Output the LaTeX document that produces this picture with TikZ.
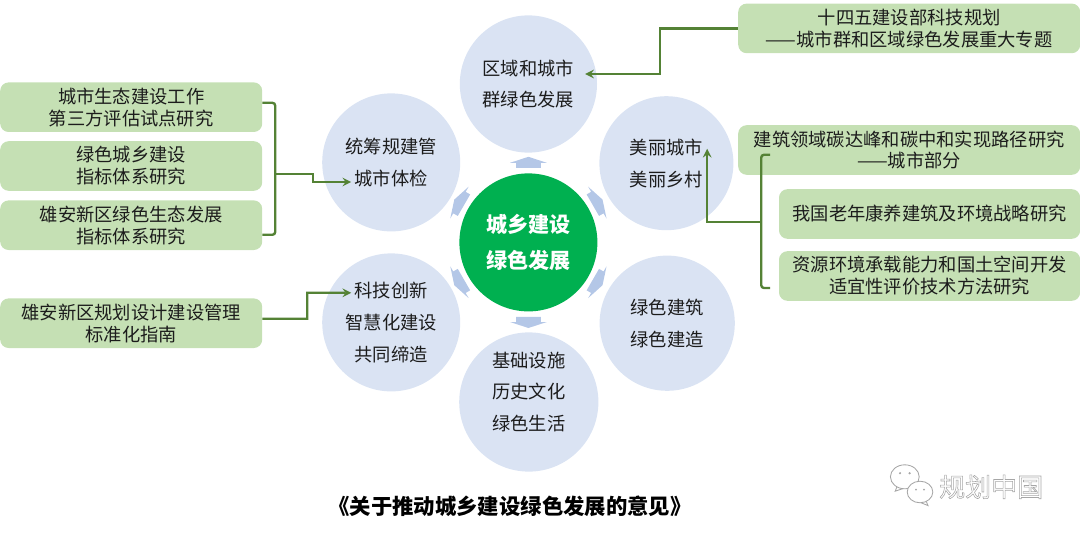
\documentclass[tikz,border=0pt]{standalone}
\usepackage{fontspec}
\setmainfont{Noto Sans CJK SC}
\usetikzlibrary{arrows.meta}
\definecolor{hubgreen}{HTML}{00B050}
\definecolor{spokeblue}{HTML}{DAE3F3}
\definecolor{boxgreen}{HTML}{C5E0B4}
\definecolor{linkgreen}{HTML}{548235}
\definecolor{arrowblue}{HTML}{B4C7E7}
\definecolor{inkdark}{HTML}{1C1C1C}
\definecolor{markgrey}{HTML}{A6A6A6}
\tikzset{
	spoke/.style={circle, fill=spokeblue, inner sep=0pt, align=center, text=inkdark, font=\fontsize{13}{22.6}\selectfont},
	hub/.style={circle, fill=hubgreen, minimum size=3.45cm, inner sep=0pt, align=center, text=white, font=\bfseries\fontsize{15}{25.5}\selectfont},
	topicbox/.style={rectangle, rounded corners=6pt, fill=boxgreen, inner sep=0pt, align=center, text=inkdark, font=\fontsize{13}{15.6}\selectfont},
	leftbox/.style={topicbox, minimum width=6.55cm, minimum height=1.24cm},
	rightbox/.style={topicbox, minimum width=8.55cm, minimum height=1.24cm},
	shortbox/.style={topicbox, minimum width=7.53cm, minimum height=1.24cm},
	link/.style={linkgreen, line width=1.7pt},
	linktip/.style={link, ->, >=stealth},
	bubble/.style={draw=markgrey, fill=white, line width=0.6pt},
}
\begin{document}
\begin{tikzpicture}
	\useasboundingbox (0,0) rectangle (27,13.3);
	
	\node [spoke, minimum size=3.43cm] (region) at (13.21,11.2) {区域和城市\\群绿色发展};
	\node [spoke, minimum size=3.35cm] (beauty) at (16.66,9.22) {美丽城市\\美丽乡村};
	\node [spoke, minimum size=3.38cm] (build) at (16.68,5.22) {绿色建筑\\绿色建造};
	\node [spoke, minimum size=3.48cm] (life) at (13.22,3.25) {};
	\node [spoke] (lifetext) at (13.22,3.5) {基础设施\\历史文化\\绿色生活};
	\node [spoke, minimum size=3.45cm] (tech) at (9.78,5.24) {科技创新\\智慧化建设\\共同缔造};
	\node [spoke, minimum size=3.45cm] (check) at (9.78,9.24) {统筹规建管\\城市体检};
	\node [hub] (center) at (13.21,7.24) {城乡建设\\绿色发展};
	
	\foreach \ang in {90,30,-30,-90,-150,150}
		\fill [arrowblue, shift={(center)}, rotate=\ang] (1.86,-0.31) -- (1.99,-0.31) -- (1.99,-0.46) -- (2.14,0) -- (1.99,0.46) -- (1.99,0.31) -- (1.86,0.31) -- cycle;
	
	\node [leftbox] (ecology) at (3.28,10.62) {城市生态建设工作\\第三方评估试点研究};
	\node [leftbox] (index) at (3.28,9.15) {绿色城乡建设\\指标体系研究};
	\node [leftbox] (xiong) at (3.28,7.67) {雄安新区绿色生态发展\\指标体系研究};
	\node [leftbox] (guide) at (3.28,5.22) {雄安新区规划设计建设管理\\标准化指南};
	\node [rightbox] (plan) at (22.73,12.59) {十四五建设部科技规划\\——城市群和区域绿色发展重大专题};
	\node [rightbox] (carbon) at (22.73,9.55) {建筑领域碳达峰和碳中和实现路径研究\\——城市部分};
	\node [shortbox] (aging) at (23.24,7.95) {我国老年康养建筑及环境战略研究};
	\node [shortbox] (resource) at (23.24,6.4) {资源环境承载能力和国土空间开发\\适宜性评价技术方法研究};
	
	\coordinate (regiontip) at (14.63,11.45);
	\coordinate (beautytip) at (17.68,9.58);
	\coordinate (checktip) at (8.78,8.75);
	\coordinate (techtip) at (8.78,5.98);
	\coordinate (rightjoin) at (19.03,7.75);
	\coordinate (righttop) at (19.25,9.43);
	\coordinate (rightend) at (19.25,6.1);
	\coordinate (leftjoin) at (6.88,8.95);
	
	\draw [linktip] (plan.west) -- (16.5,12.59) |- (regiontip);
	\draw [link, rounded corners=2pt] (righttop) -- (19.03,9.43) -- (19.03,6.1) -- (rightend);
	\draw [linktip] (rightjoin) -| (beautytip);
	\draw [link, rounded corners=2pt] ([yshift=0.11cm]ecology.east) -- (6.88,10.73) -- (6.88,7.43) -- ([yshift=-0.24cm]xiong.east);
	\draw [linktip] (leftjoin) -- (7.83,8.95) |- (checktip);
	\draw [linktip] ([yshift=0.11cm]guide.east) -- (7.68,5.33) |- (techtip);
	
	\node [font=\bfseries\fontsize{15.2}{18}\selectfont, text=black] (title) at (12.75,0.63) {《关于推动城乡建设绿色发展的意见》};
	
	\draw [bubble] (22.38,1.02) -- (22.45,1.2) -- (22.62,1.1) -- cycle;
	\draw [bubble] (22.62,1.38) ellipse (0.36 and 0.3);
	\draw [bubble] (23.2,0.66) -- (23.12,0.85) -- (22.98,0.75) -- cycle;
	\draw [bubble] (23,1) ellipse (0.32 and 0.27);
	\fill [markgrey] (22.5,1.47) circle (0.03) (22.74,1.47) circle (0.03) (22.9,1.06) circle (0.025) (23.1,1.06) circle (0.025);
	\node [text=markgrey, font=\fontsize{18.5}{22}\selectfont] (mark) at (24.78,1.13) {\special{pdf:code 1 Tr 0.4 w}规划中国\special{pdf:code 0 Tr}};
\end{tikzpicture}
\end{document}
